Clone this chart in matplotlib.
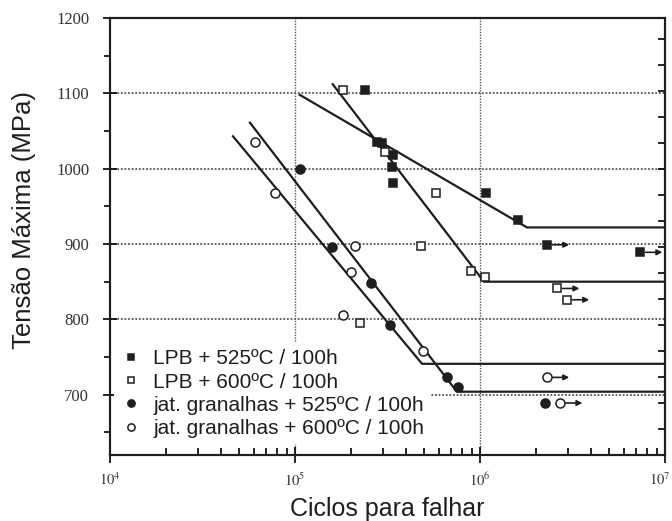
import numpy as np
import matplotlib
matplotlib.use("Agg")
import matplotlib.pyplot as plt
import matplotlib.transforms as mtransforms
from matplotlib.ticker import FixedLocator, LogLocator, NullFormatter

# data
lpb525_n = [2.39e5, 2.77e5, 2.95e5, 3.39e5, 3.35e5, 3.40e5, 1.08e6, 1.60e6]
lpb525_s = [1104, 1035, 1034, 1018, 1002, 981, 968, 932]
lpb525_run_n = [2.30e6, 7.33e6]
lpb525_run_s = [899, 889]

lpb600_n = [1.82e5, 3.07e5, 5.78e5, 4.80e5, 8.90e5, 1.06e6, 2.24e5]
lpb600_s = [1104, 1022, 968, 897, 864, 856, 795]
lpb600_run_n = [2.61e6, 2.95e6]
lpb600_run_s = [841, 826]

jat525_n = [1.07e5, 1.58e5, 2.57e5, 3.26e5, 6.63e5, 7.60e5, 2.24e6]
jat525_s = [1000, 896, 848, 792, 723, 710, 689]

jat600_n = [6.08e4, 7.80e4, 2.11e5, 2.01e5, 1.82e5, 4.92e5]
jat600_s = [1035, 968, 897, 863, 806, 758]
jat600_run_n = [2.30e6, 2.71e6]
jat600_run_s = [723, 689]

# fitted curves (start, knee, end)
fit_lpb525_n = [1.06e5, 1.795e6, 1e7]
fit_lpb525_s = [1098, 922, 922]
fit_lpb600_n = [1.60e5, 1.05e6, 1e7]
fit_lpb600_s = [1112, 850, 850]
fit_jat525_n = [5.71e4, 7.50e5, 1e7]
fit_jat525_s = [1061, 704, 704]
fit_jat600_n = [4.62e4, 4.86e5, 1e7]
fit_jat600_s = [1043, 741, 741]

labels = ["LPB + 525ºC / 100h", "LPB + 600ºC / 100h",
          "jat. granalhas + 525ºC / 100h", "jat. granalhas + 600ºC / 100h"]

ink = "#1e1e1e"
sans = "Liberation Sans"
serif = "Liberation Serif"
plt.rcParams["mathtext.fontset"] = "stix"

fig = plt.figure(figsize=(6.72, 5.21), dpi=100)
ax = fig.add_axes([0.1637, 0.1267, 0.8259, 0.8388])
ax.set_xscale("log")
ax.set_xlim(1e4, 1e7)
ax.set_ylim(620, 1200)

# grid
for yv in [700, 800, 900, 1000, 1100, 1200]:
    ax.axhline(yv, color="#555555", ls=(0, (1, 1)), lw=1.3, zorder=1)
for xv in [1e5, 1e6]:
    ax.axvline(xv, color="#555555", ls=(0, (1, 1)), lw=1.0, zorder=1)

# fits
for fn, fs in [(fit_lpb525_n, fit_lpb525_s), (fit_lpb600_n, fit_lpb600_s),
               (fit_jat525_n, fit_jat525_s), (fit_jat600_n, fit_jat600_s)]:
    ax.plot(fn, fs, color=ink, lw=1.6, zorder=3)

sq = dict(marker="s", ms=6, ls="none", mew=1.1, zorder=4)
ci = dict(marker="o", ms=6.5, ls="none", mew=1.1, zorder=4)

h1, = ax.plot(lpb525_n + lpb525_run_n, lpb525_s + lpb525_run_s, mfc=ink, mec=ink, **sq)
h2, = ax.plot(lpb600_n + lpb600_run_n, lpb600_s + lpb600_run_s, mfc="white", mec=ink, **sq)
h3, = ax.plot(jat525_n, jat525_s, mfc=ink, mec=ink, **ci)
h4, = ax.plot(jat600_n + jat600_run_n, jat600_s + jat600_run_s, mfc="white", mec=ink, **ci)

# run-out arrows
for rn, rs in [(lpb525_run_n, lpb525_run_s), (lpb600_run_n, lpb600_run_s),
               (jat600_run_n, jat600_run_s)]:
    for n, s in zip(rn, rs):
        ax.annotate("", xy=(n * 1.32, s), xytext=(n, s),
                    arrowprops=dict(arrowstyle="-|>", color=ink, lw=1.2,
                                    mutation_scale=8, shrinkA=4, shrinkB=0),
                    zorder=3)

# ticks
ax.yaxis.set_major_locator(FixedLocator([700, 800, 900, 1000, 1100, 1200]))
ax.yaxis.set_minor_locator(FixedLocator([650, 750, 850, 950, 1050, 1150]))
ax.xaxis.set_major_locator(FixedLocator([1e4, 1e5, 1e6, 1e7]))
ax.xaxis.set_minor_locator(LogLocator(base=10, subs=np.arange(2, 10)))
ax.xaxis.set_minor_formatter(NullFormatter())
ax.set_xticklabels([r"$10^{4}$", r"$10^{5}$", r"$10^{6}$", r"$10^{7}$"])
ax.tick_params(axis="y", which="major", direction="inout", length=10, width=1.2,
               labelsize=12, labelcolor="#333333", pad=10)
ax.tick_params(axis="y", which="minor", direction="out", length=4, width=1.2)
ax.tick_params(axis="x", which="major", direction="inout", length=12, width=1.2,
               labelsize=10.5, labelcolor="#333333", pad=6)
ax.tick_params(axis="x", which="minor", direction="in", length=5, width=1.2)
for t in ax.get_yticklabels():
    t.set_fontfamily(serif)
# the last x label sits on the figure edge; nudge it inside
last = ax.get_xticklabels()[-1]
last.set_transform(last.get_transform() +
                   mtransforms.ScaledTranslation(-5 / 100, 0, fig.dpi_scale_trans))

# right-hand ticks every 5 ksi (unlabelled)
ax2 = ax.twinx()
ax2.set_ylim(ax.get_ylim())
ax2.yaxis.set_major_locator(FixedLocator(np.arange(90, 180, 5) * 6.895))
ax2.tick_params(axis="y", direction="in", length=5, width=1.2, labelright=False)
ax2.set_yticklabels([])

for a in (ax, ax2):
    for sp in a.spines.values():
        sp.set_linewidth(1.5)
        sp.set_color(ink)

ax.set_xlabel("Ciclos para falhar", fontsize=18, fontfamily=sans, color=ink, labelpad=6)
ax.set_ylabel("Tensão Máxima (MPa)", fontsize=18.5, fontfamily=sans, color=ink)
ax.yaxis.set_label_coords(-0.133, 0.538)

leg = ax.legend([h1, h2, h3, h4], labels, loc="upper left",
                bbox_to_anchor=(0.007, 0.256), borderaxespad=0, borderpad=0.3,
                handlelength=1.0, handletextpad=0.6, labelspacing=0.2,
                prop={"family": sans, "size": 15}, frameon=True,
                framealpha=1, facecolor="white", edgecolor="none",
                markerscale=0.8)
for t in leg.get_texts():
    t.set_color(ink)
leg.set_zorder(2)

fig.savefig("out.png", dpi=100)
